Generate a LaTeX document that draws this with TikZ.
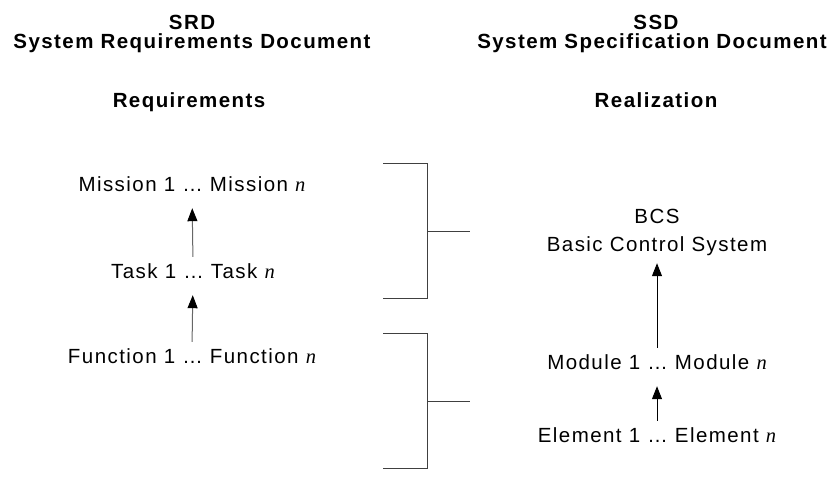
\documentclass[tikz,border=0pt]{standalone}
\usepackage{fontspec}
\setmainfont[LetterSpace=7]{Liberation Sans}
\newfontfamily\nfont{Liberation Serif}
\newcommand{\nth}{{\nfont\itshape n}}
\usetikzlibrary{arrows.meta}

\begin{document}
\begin{tikzpicture}[x=1pt,y=-1pt,
    every node/.style={font=\fontsize{20.5}{24}\selectfont, inner sep=0pt,
      anchor=base, text height=14pt, text depth=0pt},
    head/.style={font=\fontsize{20.5}{24}\selectfont\bfseries},
    up/.style={-{Triangle[length=13pt,width=10pt,color=black]}, line width=1pt, shorten <=7pt},
    brace/.style={line width=1pt, draw=black!75}]
  \useasboundingbox (0,0) rectangle (835,485);
  % headings
  \node[head] (srd)  at (192,29)  {SRD};
  \node[head] (srdl) at (192,48)  {System Requirements Document};
  \node[head] (req)  at (189,107) {Requirements};
  \node[head] (ssd)  at (656,29)  {SSD};
  \node[head] (ssdl) at (652,48)  {System Specification Document};
  \node[head] (real) at (656,107) {Realization};
  % left column
  \node (mission)  at (192,191) {Mission 1 … Mission \nth};
  \node (task)     at (193,278) {Task 1 … Task \nth};
  \node (function) at (192,363) {Function 1 … Function \nth};
  \draw[up, draw=black!60, shorten >=17pt] (task.north) -- (mission.south);
  \draw[up, draw=black!60, shorten >=17pt] (function.north) -- (task.south);
  % right column
  \node (bcs)     at (657,223) {BCS};
  \node (bcsl)    at (657,251) {Basic Control System};
  \node (module)  at (657,369) {Module 1 … Module \nth};
  \node (element) at (657,442) {Element 1 … Element \nth};
  \draw[up, shorten >=12pt] (module.north) -- (bcsl.south);
  \draw[up, shorten >=17pt] (element.north) -- (module.south);
  % brackets
  \draw[brace] (383,163) -- (427,163) -- (427,298) -- (383,298);
  \draw[brace] (427,231) -- (470,231);
  \draw[brace] (383,333) -- (427,333) -- (427,468) -- (383,468);
  \draw[brace] (427,401) -- (470,401);
\end{tikzpicture}
\end{document}
